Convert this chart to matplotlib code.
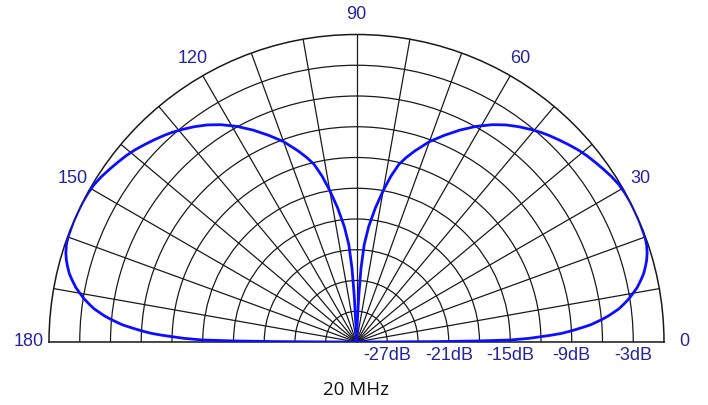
import numpy as np
import matplotlib
matplotlib.use('Agg')
import matplotlib.pyplot as plt

# elevation pattern (degrees, dB relative to max)
right_deg = [0, 0.15, 0.3, 0.5, 0.75, 1.2, 1.65, 2, 2.4, 2.85, 3.3, 3.75, 4.2,
             4.75, 5.3, 5.9, 6.5, 7.2, 8, 9, 10, 11, 12.3, 13.4, 14.5, 15.7, 17,
             18.5, 20, 23, 25, 27, 29, 31, 33, 35, 37, 39, 41, 43, 45, 47, 48.6,
             50.5, 53, 55.5, 58, 61, 64, 67, 70, 73, 75, 76.6, 78.3, 80, 82, 84,
             85.5, 86.5, 87.2, 88, 88.5, 90]
right_db = [-30, -27, -22, -18, -15, -13.2, -12, -11, -10, -9.2, -8.5, -7.8,
            -7.1, -6.5, -5.9, -5.3, -4.8, -4.2, -3.7, -3.1, -2.6, -2.1, -1.6,
            -1.2, -0.9, -0.6, -0.35, -0.15, -0.05, 0, 0, 0, -0.05, -0.15, -0.35,
            -0.6, -0.85, -1.1, -1.4, -1.75, -2.1, -2.45, -2.75, -3.15, -3.7,
            -4.3, -5.0, -5.95, -7.0, -8.1, -9.2, -10.5, -11.4, -12.2, -13.5,
            -15.0, -16.8, -18.7, -20.5, -22.8, -25.5, -28.5, -30, -30]
left_deg = [90, 91.5, 92, 92.8, 93.5, 94.5, 96, 98, 100, 101.7, 103.4, 105, 107,
            110, 113, 116, 119, 122, 124.5, 127, 129.5, 131.4, 133, 135, 137,
            139, 141, 143, 145, 147, 149, 151, 153, 155, 157, 160, 161.5, 163,
            164.3, 165.5, 166.6, 167.7, 169, 170, 171, 172, 172.8, 173.5, 174.1,
            174.7, 175.25, 175.8, 176.25, 176.7, 177.15, 177.6, 178, 178.35,
            178.8, 179.25, 179.5, 179.7, 179.85, 180]
left_db = [-30, -30, -28.5, -25.5, -22.8, -20.5, -18.7, -16.8, -15.0, -13.5,
           -12.2, -11.4, -10.5, -9.2, -8.1, -7.0, -5.95, -5.0, -4.3, -3.7, -3.15,
           -2.75, -2.45, -2.1, -1.75, -1.4, -1.1, -0.85, -0.6, -0.35, -0.15,
           -0.05, 0, 0, 0, -0.05, -0.15, -0.35, -0.6, -0.9, -1.2, -1.6, -2.1,
           -2.6, -3.1, -3.7, -4.2, -4.8, -5.3, -5.9, -6.5, -7.1, -7.8, -8.5,
           -9.2, -10, -11, -12, -13.2, -15, -18, -22, -27, -30]

ring_db = [-27, -24, -21, -18, -15, -12, -9, -6, -3]
ring_labels = [-27, -21, -15, -9, -3]
theta_ticks = list(range(0, 181, 10))
theta_labels = [str(t) if t % 30 == 0 else '' for t in theta_ticks]
caption = '20 MHz'

label_blue = '#24249c'

# half-disk: centre at (356.5, 342) px from top-left, radius 307.5 px.
# matplotlib pads the wedge to a square, so the axes box is 2R x 2R
W, H = 708, 405
R = 307.5
cx, cy = 356.5, H - 342
fig = plt.figure(figsize=(W / 100, H / 100), dpi=100)
ax = fig.add_axes([(cx - R) / W, (cy - R / 2) / H, 2 * R / W, 2 * R / H],
                  projection='polar')
ax.set_thetamin(0)
ax.set_thetamax(180)
ax.set_rlim(-30, 0)

ax.set_thetagrids(theta_ticks, theta_labels)
ax.set_rgrids(ring_db, [''] * len(ring_db))
ax.grid(True, color='#1a1a1a', linewidth=0.9)
ax.tick_params(axis='x', pad=4.2, labelsize=13, labelcolor=label_blue)
for lbl in ax.get_xticklabels():
    lbl.set_family('Liberation Sans')
for sp in ax.spines.values():
    sp.set_color('#1a1a1a')
    sp.set_linewidth(1.1)

ax.plot(np.deg2rad(right_deg), right_db, color='#0d0dff', linewidth=2.0, zorder=5)
ax.plot(np.deg2rad(left_deg), left_db, color='#0d0dff', linewidth=2.0, zorder=5)

for v in ring_labels:
    ax.annotate(f'{v}dB', xy=(0, v), xytext=(0, -3.5), textcoords='offset points',
                ha='center', va='top', fontsize=13, color=label_blue,
                family='Liberation Sans', annotation_clip=False)

fig.text(355.7 / W, 1 - 389.7 / H, caption, ha='center', va='center',
         fontsize=13.5, family='Open Sans', color='#111111')

fig.savefig('out.png', dpi=100)
